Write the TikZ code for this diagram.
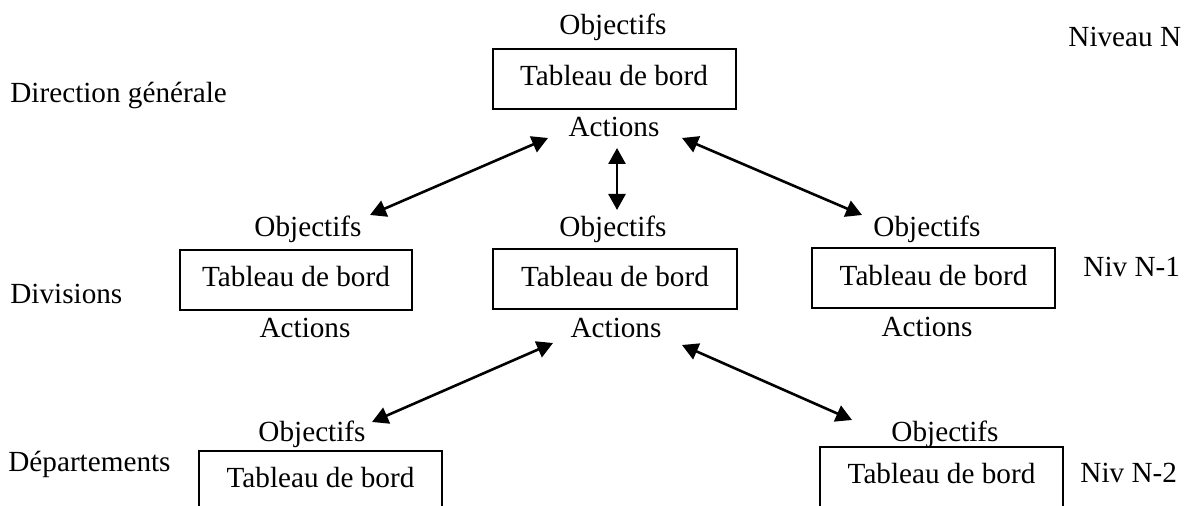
\documentclass[tikz,border=0pt]{standalone}
\usepackage{fontspec}
\setmainfont{Liberation Serif}
\usetikzlibrary{arrows.meta}
\begin{document}
\begin{tikzpicture}[x=0.5pt,y=-0.5pt,
    every node/.style={font=\fontsize{14.6}{17}\selectfont, inner sep=0pt},
    tdb/.style={draw, line width=1pt, minimum width=121.5pt, minimum height=30pt, text height=10pt, text depth=3pt},
    lien/.style={{Triangle[length=8pt,width=8.5pt]}-{Triangle[length=8pt,width=8.5pt]}, line width=1.3pt}]

    \useasboundingbox (0,0) rectangle (1187,506);
    \clip (0,0) rectangle (1187,506);

    \node[anchor=base west] (dg) at (10,103) {Direction générale};
    \node[anchor=base west] (div) at (10,304) {Divisions};
    \node[anchor=base west] (dep) at (8,472) {Départements};
    \node[anchor=base west] (nivN) at (1068,47) {Niveau N};
    \node[anchor=base west] (nivA) at (1083,277) {Niv N-1};
    \node[anchor=base west] (nivB) at (1080,483) {Niv N-2};

    \node[tdb] (tdbN) at (614,79) {Tableau de bord};
    \node[anchor=base] (objN) at (613,35) {Objectifs};
    \node[anchor=base] (actN) at (614,137) {Actions};

    \node[tdb, minimum width=116pt] (tdbA) at (296,280) {Tableau de bord};
    \node[anchor=base] (objA) at (308,237) {Objectifs};
    \node[anchor=base] (actA) at (305,338) {Actions};

    \node[tdb, minimum width=122pt] (tdbB) at (615,279.5) {Tableau de bord};
    \node[anchor=base] (objB) at (613,237) {Objectifs};
    \node[anchor=base] (actB) at (616,338) {Actions};

    \node[tdb] (tdbC) at (933.5,278.5) {Tableau de bord};
    \node[anchor=base] (objC) at (927,237) {Objectifs};
    \node[anchor=base] (actC) at (927,337) {Actions};

    \node[tdb] (tdbD) at (320.5,481) {Tableau de bord};
    \node[anchor=base] (objD) at (312,442) {Objectifs};

    \node[tdb] (tdbE) at (941.5,477) {Tableau de bord};
    \node[anchor=base] (objE) at (945,442) {Objectifs};

    \coordinate (nA) at (548,138);
    \coordinate (aN) at (370,215);
    \coordinate (nB) at (617,148);
    \coordinate (bN) at (617,210);
    \coordinate (nC) at (682,138);
    \coordinate (cN) at (862,215);
    \coordinate (bD) at (553,343);
    \coordinate (dB) at (372,422);
    \coordinate (bE) at (682,345);
    \coordinate (eB) at (852,420);

    \draw[lien] (nA) -- (aN);
    \draw[lien] (nB) -- (bN);
    \draw[lien] (nC) -- (cN);
    \draw[lien] (bD) -- (dB);
    \draw[lien] (bE) -- (eB);

\end{tikzpicture}
\end{document}
